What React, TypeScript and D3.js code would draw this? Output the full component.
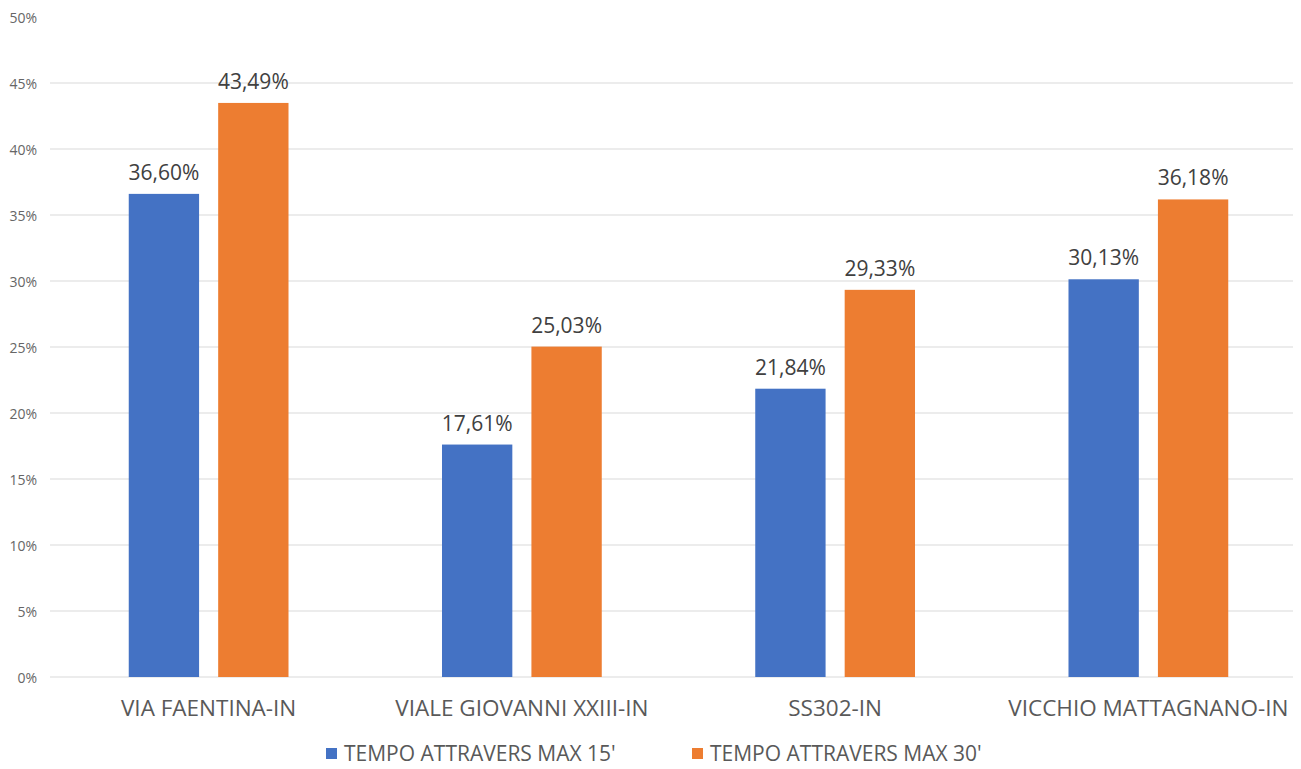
import React, { useEffect, useRef } from "react";
import * as d3 from "d3";

const categories = [
  "VIA FAENTINA-IN",
  "VIALE GIOVANNI XXIII-IN",
  "SS302-IN",
  "VICCHIO MATTAGNANO-IN",
];
const seriesNames = ["TEMPO ATTRAVERS MAX 15'", "TEMPO ATTRAVERS MAX 30'"];
const max15 = [36.6, 17.61, 21.84, 30.13];
const max30 = [43.49, 25.03, 29.33, 36.18];
const yTicks = [0, 5, 10, 15, 20, 25, 30, 35, 40, 45, 50];

const colors = ["#4472C4", "#ED7D31"];
const font = "'Open Sans', 'Liberation Sans', sans-serif";

const App = () => {
  const ref = useRef<SVGSVGElement>(null);

  useEffect(() => {
    const svg = d3.select(ref.current);
    svg.selectAll("*").remove();

    const x0 = d3
      .scaleBand<string>()
      .domain(categories)
      .range([52, 1305])
      .paddingInner(0.49)
      .paddingOuter(0.245);

    const x1 = d3
      .scaleBand<string>()
      .domain(seriesNames)
      .range([0, x0.bandwidth()])
      .paddingInner(0.2135);

    const y = d3.scaleLinear().domain([0, 50]).range([677, 17]);

    // gridlines (top one is not drawn in the original)
    const grid = svg.append("g");
    grid
      .selectAll("line")
      .data(yTicks.filter((d) => d < 50))
      .join("line")
      .attr("x1", 50)
      .attr("x2", 1293)
      .attr("y1", (d) => y(d))
      .attr("y2", (d) => y(d))
      .attr("stroke", "#d9d9d9")
      .attr("stroke-width", 1);

    grid
      .selectAll("text")
      .data(yTicks)
      .join("text")
      .attr("x", 37)
      .attr("y", (d) => y(d) + 1)
      .attr("dy", "0.35em")
      .attr("text-anchor", "end")
      .attr("font-family", font)
      .attr("font-size", 14)
      .attr("fill", "#666666")
      .text((d) => `${d}%`);

    const rows = categories.map((c, i) => ({
      cat: c,
      vals: [max15[i], max30[i]],
    }));

    const groups = svg
      .append("g")
      .selectAll("g")
      .data(rows)
      .join("g")
      .attr("transform", (d) => `translate(${x0(d.cat)},0)`);

    groups
      .selectAll("rect")
      .data((d) => d.vals.map((v, j) => ({ v, s: seriesNames[j], j })))
      .join("rect")
      .attr("x", (d) => x1(d.s) as number)
      .attr("width", x1.bandwidth())
      .attr("y", (d) => y(d.v))
      .attr("height", (d) => y(0) - y(d.v))
      .attr("fill", (d) => colors[d.j]);

    groups
      .selectAll("text.val")
      .data((d) => d.vals.map((v, j) => ({ v, s: seriesNames[j] })))
      .join("text")
      .attr("class", "val")
      .attr("x", (d) => (x1(d.s) as number) + x1.bandwidth() / 2)
      .attr("y", (d) => y(d.v) - 14)
      .attr("text-anchor", "middle")
      .attr("font-family", font)
      .attr("font-size", 21)
      .attr("fill", "#404040")
      .text((d) => d.v.toFixed(2).replace(".", ",") + "%");

    // category labels
    svg
      .append("g")
      .selectAll("text")
      .data(categories)
      .join("text")
      .attr("x", (d) => (x0(d) as number) + x0.bandwidth() / 2)
      .attr("y", 716)
      .attr("text-anchor", "middle")
      .attr("font-family", font)
      .attr("font-size", 22.5)
      .attr("fill", "#595959")
      .text((d) => d);

    // legend
    const legendX = [326, 692];
    const legend = svg
      .append("g")
      .selectAll("g")
      .data(seriesNames)
      .join("g")
      .attr("transform", (_, i) => `translate(${legendX[i]},748)`);
    legend
      .append("rect")
      .attr("width", 11)
      .attr("height", 11)
      .attr("fill", (_, i) => colors[i]);
    legend
      .append("text")
      .attr("x", 18)
      .attr("y", 13)
      .attr("font-family", font)
      .attr("font-size", 21)
      .attr("fill", "#595959")
      .text((d) => d);
  }, []);

  return (
    <svg
      ref={ref}
      width={1301}
      height={769}
      style={{ position: "absolute", left: 0, top: 0, background: "#fff" }}
    />
  );
};

export default App;
